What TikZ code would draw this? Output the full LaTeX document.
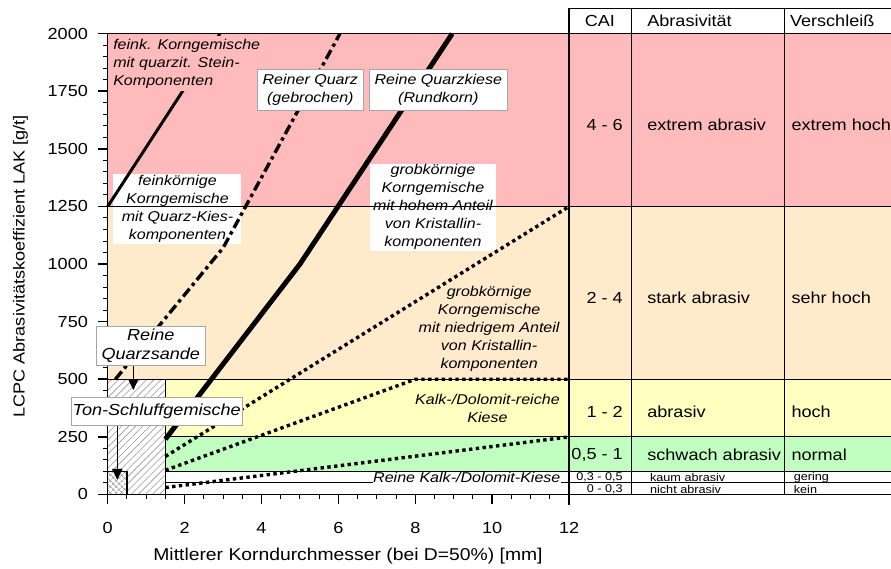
\documentclass[tikz,border=0pt]{standalone}
\usepackage{fontspec}
\setmainfont{Liberation Sans}[FakeStretch=1.13]
\usepackage{tikz}
\usetikzlibrary{arrows.meta,patterns.meta,positioning}

\definecolor{lakred}{RGB}{255,187,187}
\definecolor{lakpeach}{RGB}{255,234,204}
\definecolor{lakyellow}{RGB}{255,255,192}
\definecolor{lakgreen}{RGB}{192,255,192}

\begin{document}
\begin{tikzpicture}[
    x=38.45pt, y=0.2304pt,
    font=\fontsize{16}{19.5}\selectfont,
    axisline/.style={line width=1.6pt},
    rowline/.style={line width=1pt},
    note/.style={font=\fontsize{14.2}{18}\selectfont\itshape, align=center, inner sep=1pt},
    notebox/.style={note, fill=white, draw=gray!70, line width=0.8pt, inner xsep=5.5pt, inner ysep=2pt},
    bignote/.style={notebox, font=\fontsize{16}{19.5}\selectfont\itshape},
    cellL/.style={anchor=west, inner sep=0pt},
    cellR/.style={anchor=east, inner sep=0pt},
    smallcell/.style={font=\fontsize{11.2}{12}\selectfont},
    solidcurve/.style={line width=3pt},
    thickcurve/.style={line width=5pt},
    dotcurve/.style={line width=3.4pt, dash pattern=on 3.4pt off 3.4pt},
    dashdotcurve/.style={line width=3.4pt, dash pattern=on 10pt off 4pt on 3.4pt off 4pt},
    ptr/.style={-{Triangle[length=11pt,width=10pt]}, line width=1.6pt}
]
    \useasboundingbox (-2.801,-323.4) rectangle (20.372,2146.2);

    % Colour bands
    \fill[lakred] (0,1250) rectangle (20.372,2000);
    \fill[lakpeach] (0,500) rectangle (20.372,1250);
    \fill[lakyellow] (1.5,250) rectangle (20.372,500);
    \fill[lakgreen] (1.5,100) rectangle (20.372,250);

    % Sand and silt boxes
    \fill[white] (0,0) rectangle (1.5,500);
    \fill[pattern={Lines[angle=45,distance=5pt,line width=0.6pt]}, pattern color=gray!80] (0,0) rectangle (1.5,500);
    \fill[white] (0,0) rectangle (0.5,100);
    \fill[pattern={Hatch[angle=45,distance=4pt,line width=0.5pt]}, pattern color=gray!80] (0,0) rectangle (0.5,100);
    \draw[line width=1.5pt] (0,0) rectangle (1.5,500);
    \draw[line width=1.5pt] (0,0) rectangle (0.5,100);

    % White labels under the curves
    \node[note, fill=white, minimum width=128pt] (fein-kies) at (1.815,1239) {feinkörnige\\Korngemische\\mit Quarz-Kies-\\komponenten};
    \node[note, fill=white, minimum width=126pt] (grob-hoch) at (8.46,1247) {grobkörnige\\Korngemische\\mit hohem Anteil\\von Kristallin-\\komponenten};

    % Band lines and table
    \draw[rowline] (0,1250) -- (20.372,1250);
    \draw[rowline] (0,500) -- (20.372,500);
    \foreach \v in {250,100,50} \draw[rowline] (1.5,\v) -- (20.372,\v);
    \draw[rowline] (12,0) -- (20.372,0);
    \draw[rowline] (12,2110) -- (20.372,2110);
    \draw[rowline] (13.61,0) -- (13.61,2110);
    \draw[rowline] (17.59,0) -- (17.59,2110);

    % Axes
    \draw[axisline] (0,2000) -- (20.372,2000);
    \draw[axisline] (0,0) -- (0,2000);
    \draw[axisline] (0,0) -- (12,0);
    \draw[axisline] (12,-45) -- (12,2110);
    \foreach \v in {50,100,...,1950} \draw[rowline] (0,\v) -- ++(-5pt,0pt);
    \foreach \v in {0,250,...,2000} {
        \draw[axisline] (0,\v) -- ++(-10pt,0pt);
        \node[cellR] (ylab-\v) at (-0.51,\v) {\v};
    }
    \foreach \u in {0.5,1,...,11.5} \draw[rowline] (\u,0) -- ++(0pt,-5pt);
    \foreach \u in {0,2,...,12} {
        \draw[axisline] (\u,0) -- ++(0pt,-10pt);
        \node (xlab-\u) at (\u,-145) {\u};
    }
    \node[font=\fontsize{17.1}{20}\selectfont] (xtitle) at (6.25,-267) {Mittlerer Korndurchmesser (bei D=50\%) [mm]};
    \node[rotate=90] (ytitle) at (-2.268,990) {LCPC Abrasivitätskoeffizient LAK [g/t]};

    % Curves
    \draw[solidcurve] (0,1250) -- (2.92,2000);
    \draw[dashdotcurve] (0.2,500) -- (1.4,745) -- (3.0,1070) -- (6.04,2000);
    \draw[thickcurve] (1.5,240) -- (5,1000) -- (8.96,2000);
    \draw[dotcurve] (1.5,165) -- (12,1250);
    \draw[dotcurve] (1.5,105) -- (8,500) -- (12,500);
    \draw[dotcurve] (1.5,30) -- (12,250);

    % Labels on the curves
    \node[note, fill=lakred, align=left, anchor=north west, inner xsep=2pt, inner ysep=3pt] (fein-stein) at (0.088,1990) {feink. Korngemische\\mit quarzit. Stein-\\Komponenten};
    \node[notebox, minimum height=40.7pt] (quarz-gebr) at (5.27,1757) {Reiner Quarz\\(gebrochen)};
    \node[notebox, minimum height=40.7pt] (quarz-rund) at (8.60,1757) {Reine Quarzkiese\\(Rundkorn)};
    \node[note] (grob-niedrig) at (9.92,720) {grobkörnige\\Korngemische\\mit niedrigem Anteil\\von Kristallin-\\komponenten};
    \node[note] (kalk-reich) at (9.877,375) {Kalk-/Dolomit-reiche\\Kiese};
    \node[note, fill=white, inner sep=0.5pt] (kalk-rein) at (9.34,72) {Reine Kalk-/Dolomit-Kiese};
    \node[bignote, minimum width=108pt, minimum height=39.7pt] (quarzsand) at (1.121,645.4) {Reine\\Quarzsande};
    \node[bignote, inner xsep=1.5pt, minimum height=28pt] (tonschluff) at (1.274,359.4) {Ton-Schluffgemische};
    \coordinate (quarzsand-tip) at (0.666,453);
    \coordinate (tonschluff-tip) at (0.25,63);
    \draw[ptr] (quarzsand.south -| quarzsand-tip) -- (quarzsand-tip);
    \draw[ptr] (tonschluff.south -| tonschluff-tip) -- (tonschluff-tip);

    % Table header
    \node (hd-cai) at (12.8,2055) {CAI};
    \node[cellL] (hd-abr) at (14.03,2055) {Abrasivität};
    \node[cellL] (hd-ver) at (17.74,2055) {Verschleiß};

    % Table rows
    \node[cellR] (cai-1) at (13.40,1604) {4 - 6};
    \node[cellL] (abr-1) at (14.03,1604) {extrem abrasiv};
    \node[cellL] (ver-1) at (17.78,1604) {extrem hoch};
    \node[cellR] (cai-2) at (13.40,852) {2 - 4};
    \node[cellL] (abr-2) at (14.03,852) {stark abrasiv};
    \node[cellL] (ver-2) at (17.78,852) {sehr hoch};
    \node[cellR] (cai-3) at (13.40,359) {1 - 2};
    \node[cellL] (abr-3) at (14.03,359) {abrasiv};
    \node[cellL] (ver-3) at (17.78,359) {hoch};
    \node[cellR] (cai-4) at (13.40,171) {0,5 - 1};
    \node[cellL] (abr-4) at (14.03,171) {schwach abrasiv};
    \node[cellL] (ver-4) at (17.78,171) {normal};
    \node[cellR, smallcell] (cai-5) at (13.40,73) {0,3 - 0,5};
    \node[cellL, smallcell] (abr-5) at (14.1,73) {kaum abrasiv};
    \node[cellL, smallcell] (ver-5) at (17.84,73) {gering};
    \node[cellR, smallcell] (cai-6) at (13.40,22) {0 - 0,3};
    \node[cellL, smallcell] (abr-6) at (14.1,22) {nicht abrasiv};
    \node[cellL, smallcell] (ver-6) at (17.84,22) {kein};
\end{tikzpicture}
\end{document}
